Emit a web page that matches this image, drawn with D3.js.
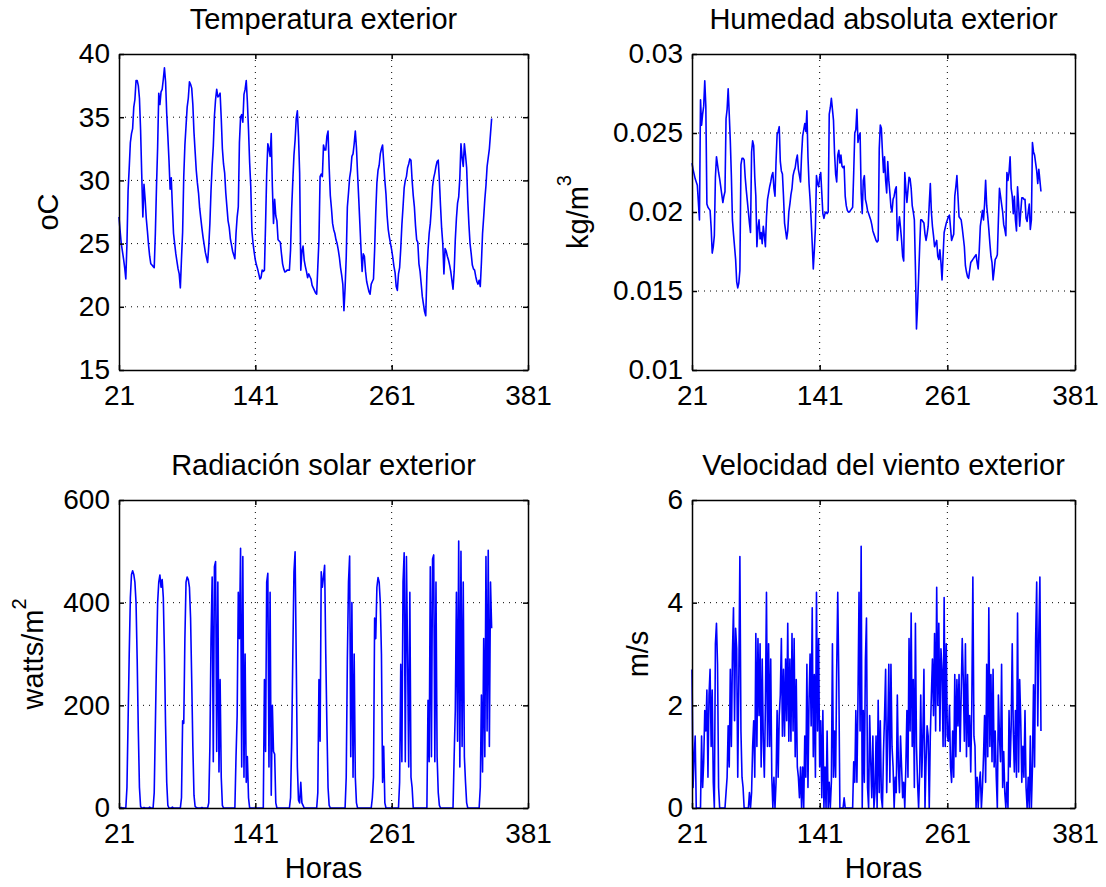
<!DOCTYPE html>
<meta charset="utf-8">
<style>
    body { margin: 0; background: #fff; }
    text {
        font-family: "Liberation Sans", Arial, Helvetica, sans-serif;
        font-size: 28px;
        fill: #000;
    }
    .big { font-size: 29px; }
    .grid line {
        stroke: #000;
        stroke-width: 1;
        stroke-dasharray: 1, 5;
    }
    .series {
        fill: none;
        stroke: #0000ff;
        stroke-width: 1.6;
        stroke-linejoin: round;
    }
    .axis path, .axis line { stroke: #000; stroke-width: 1.5; }
</style>

<svg width="1106" height="887"></svg>

<script src="https://d3js.org/d3.v7.min.js"></script>

<script>

    // hourly series, first value at hour 21
    var startHour = 21;
    var xDomain = [21, 381];
    var xTicks = [21, 141, 261, 381];

    var temperatura = [
        27.1, 26, 25, 24.4, 23.8, 23.1, 22.2, 25, 29.2, 31, 33, 33.7, 34.1, 35.8, 36.4, 37.9, 37.9, 37.5, 36.5, 34, 30.5, 27.1, 29.7, 28.5,
        27, 26, 24.9, 24, 23.4, 23.3, 23.2, 23.1, 25.8, 29.5, 32.6, 36.9, 36, 37, 37.2, 38, 38.9, 37.8, 35.3, 33.5, 31.6, 29.3, 30.2, 27.9,
        25.8, 25, 24.2, 23.6, 23, 22.6, 21.5, 23.8, 25.9, 30.3, 32.8, 34.3, 35.8, 36.5, 37.8, 37.6, 37.3, 36, 33.8, 32.3, 30.8, 29.8, 29, 27.8,
        27, 26.2, 25.5, 24.9, 24.3, 23.9, 23.5, 24.8, 26.6, 29.2, 31.2, 32.7, 35.1, 36.4, 37.2, 36.6, 36.7, 36.9, 34.9, 32.5, 31.3, 30.6, 29, 27.9,
        26.8, 26.3, 25.4, 24.9, 24.4, 24.1, 23.8, 25.8, 27.1, 27.9, 33, 35, 35.2, 34.6, 36.8, 37.2, 37.9, 36.2, 34, 31.4, 29.5, 26, 25, 24.3,
        23.7, 23.3, 23, 22.6, 22.2, 22.3, 22.9, 22.8, 22.9, 26.5, 30.5, 32.9, 32.5, 31.9, 33.7, 29.5, 26.6, 28.5, 27.2, 26.8, 25.3, 25.2, 25.1, 24.2,
        23.4, 23, 22.75, 22.8, 22.9, 22.9, 22.9, 24.5, 27.8, 30, 32, 33.2, 34.9, 35.5, 33.5, 30.6, 22.9, 24.4, 24.8, 23.7, 23.2, 22.8, 22.3, 22.6,
        22.4, 22.2, 21.7, 21.5, 21.3, 21.1, 21, 23.2, 25.3, 30.3, 30.5, 30.3, 32.8, 32.4, 32.4, 33.5, 33.9, 31, 28.8, 27.8, 26.6, 26.1, 25.8, 25.3,
        25, 24.5, 23.9, 23.1, 22.5, 21.8, 19.7, 21.5, 23.9, 27.9, 29, 30.2, 30.8, 31.9, 32.1, 32.9, 33.9, 32.6, 30.5, 28.6, 26.6, 24.6, 22.8, 24.2,
        24, 22.8, 22, 21.6, 21.2, 21, 21.8, 22, 22.2, 24.5, 27.5, 29.8, 30.8, 31.2, 32.1, 32.5, 32.8, 31.4, 30, 28.9, 27.2, 26.1, 25.5, 25,
        24.5, 23.9, 23.2, 22.7, 21.6, 21.3, 22.6, 23.1, 24.6, 26.5, 27.9, 29.4, 30, 30.3, 31, 31.3, 31.7, 31.6, 30, 28.8, 27.9, 26.4, 25.3, 25.1,
        23.4, 22.8, 21.8, 20.8, 20.2, 19.6, 19.3, 22.6, 24.5, 25.8, 26.6, 27.9, 29.5, 30.2, 30.6, 31.1, 31.5, 31.6, 30, 28, 26.2, 25, 22.6, 24.6,
        24.4, 24, 23.7, 23.3, 22.8, 22.1, 21.4, 22.8, 25.3, 27, 28.2, 28.7, 30.2, 32.9, 31.8, 31.1, 32.9, 32, 31, 28.4, 26.5, 25, 24.2, 23.3,
        23, 22.9, 22.4, 22, 21.8, 22.1, 21.6, 23.5, 25.8, 27.1, 28.5, 29.6, 31.1, 31.8, 32.5, 33.7, 34.9
    ];

    var humedad = [
        0.0231, 0.0227, 0.0224, 0.0221, 0.0219, 0.0217, 0.0206, 0.0195, 0.0271, 0.0255, 0.0262, 0.0267, 0.0283, 0.0267, 0.0205, 0.0203, 0.0202, 0.0201, 0.0190, 0.0174, 0.0178, 0.0185, 0.0222, 0.0235,
        0.0230, 0.0225, 0.0221, 0.0216, 0.0211, 0.0206, 0.0210, 0.0213, 0.0259, 0.0265, 0.0278, 0.0262, 0.0245, 0.0223, 0.0195, 0.0186, 0.0178, 0.0170, 0.0156, 0.0152, 0.0155, 0.0163, 0.0230, 0.0234,
        0.0234, 0.0233, 0.0222, 0.0214, 0.0207, 0.0200, 0.0193, 0.0187, 0.0238, 0.0245, 0.0242, 0.0222, 0.0210, 0.0178, 0.0190, 0.0195, 0.0183, 0.0187, 0.0180, 0.0191, 0.0185, 0.0178, 0.0197, 0.0208,
        0.0212, 0.0216, 0.0219, 0.0223, 0.0225, 0.0215, 0.0210, 0.0232, 0.0249, 0.0251, 0.0254, 0.0232, 0.0226, 0.0224, 0.0210, 0.0193, 0.0188, 0.0183, 0.0188, 0.0200, 0.0205, 0.0211, 0.0215, 0.0223,
        0.0226, 0.0228, 0.0233, 0.0236, 0.0227, 0.0223, 0.0219, 0.0236, 0.0248, 0.0252, 0.0256, 0.0251, 0.0264, 0.0235, 0.0218, 0.0208, 0.0195, 0.0180, 0.0164, 0.0176, 0.0190, 0.0223, 0.0218, 0.0216,
        0.0222, 0.0225, 0.0212, 0.0199, 0.0196, 0.0199, 0.0200, 0.0199, 0.0200, 0.0262, 0.0266, 0.0272, 0.0265, 0.0258, 0.0237, 0.0224, 0.0219, 0.0236, 0.0239, 0.0231, 0.0236, 0.0229, 0.0228, 0.0229,
        0.0210, 0.0204, 0.0201, 0.0200, 0.0200, 0.0201, 0.0202, 0.0203, 0.0225, 0.0250, 0.0252, 0.0265, 0.0244, 0.0248, 0.0250, 0.0212, 0.0199, 0.0220, 0.0223, 0.0208, 0.0205, 0.0201, 0.0199, 0.0197,
        0.0195, 0.0192, 0.0188, 0.0186, 0.0184, 0.0182, 0.0181, 0.0182, 0.0240, 0.0255, 0.0253, 0.0238, 0.0225, 0.0235, 0.0220, 0.0212, 0.0232, 0.0220, 0.0212, 0.0203, 0.0200, 0.0208, 0.0210, 0.0214,
        0.0216, 0.0182, 0.0190, 0.0197, 0.0190, 0.0182, 0.0172, 0.0169, 0.0225, 0.0215, 0.0206, 0.0214, 0.0222, 0.0221, 0.0215, 0.0204, 0.0200, 0.0195, 0.0165, 0.0126, 0.0140, 0.0159, 0.0178, 0.0195,
        0.0195, 0.0194, 0.0193, 0.0186, 0.0182, 0.0186, 0.0191, 0.0205, 0.0218, 0.0200, 0.0191, 0.0185, 0.0178, 0.0180, 0.0182, 0.0172, 0.0170, 0.0176, 0.0168, 0.0157, 0.0172, 0.0187, 0.0190, 0.0193,
        0.0195, 0.0197, 0.0198, 0.0190, 0.0182, 0.0184, 0.0186, 0.0210, 0.0216, 0.0223, 0.0210, 0.0197, 0.0196, 0.0195, 0.0190, 0.0184, 0.0178, 0.0166, 0.0162, 0.0159, 0.0158, 0.0163, 0.0168, 0.0169,
        0.0170, 0.0171, 0.0172, 0.0173, 0.0168, 0.0164, 0.0176, 0.0191, 0.0196, 0.0201, 0.0195, 0.0205, 0.0220, 0.0204, 0.0197, 0.0189, 0.0180, 0.0172, 0.0168, 0.0157, 0.0163, 0.0170, 0.0171, 0.0173,
        0.0195, 0.0215, 0.0210, 0.0205, 0.0200, 0.0192, 0.0189, 0.0185, 0.0225, 0.0220, 0.0225, 0.0235, 0.0215, 0.0210, 0.0199, 0.0210, 0.0195, 0.0188, 0.0216, 0.0205, 0.0191, 0.0200, 0.0209, 0.0209,
        0.0208, 0.0208, 0.0196, 0.0194, 0.0200, 0.0205, 0.0189, 0.0195, 0.0244, 0.0238, 0.0236, 0.0231, 0.0226, 0.0218, 0.0227, 0.0220, 0.0213
    ];

    var radiacion = [
        0, 0, 1, 0, 0, 0, 0, 40, 170, 300, 410, 455, 462, 455, 440, 400, 290, 150, 40, 3, 0, 0, 1, 0,
        0, 0, 0, 2, 0, 0, 0, 30, 160, 290, 400, 440, 454, 430, 445, 410, 300, 160, 50, 5, 0, 0, 0, 2,
        0, 0, 0, 0, 0, 0, 0, 20, 170, 165, 330, 440, 450, 445, 430, 370, 250, 120, 25, 3, 1, 0, 0, 0,
        0, 1, 0, 0, 0, 0, 0, 10, 120, 330, 450, 90, 470, 480, 110, 440, 70, 250, 60, 5, 0, 0, 0, 0,
        0, 0, 0, 0, 0, 0, 0, 100, 180, 420, 330, 506, 80, 490, 60, 300, 50, 100, 20, 0, 0, 0, 0, 0,
        0, 0, 0, 0, 0, 0, 0, 0, 250, 110, 440, 457, 80, 420, 25, 200, 110, 105, 10, 0, 0, 0, 0, 0,
        0, 0, 0, 0, 0, 0, 0, 20, 130, 300, 460, 499, 290, 80, 15, 10, 50, 10, 5, 0, 0, 0, 0, 0,
        0, 0, 0, 0, 0, 0, 0, 30, 250, 130, 460, 430, 450, 473, 300, 160, 40, 5, 0, 0, 0, 0, 0, 0,
        0, 0, 0, 0, 0, 0, 0, 0, 60, 290, 440, 491, 100, 400, 60, 300, 60, 10, 0, 0, 0, 0, 0, 0,
        0, 0, 0, 0, 0, 0, 0, 20, 60, 370, 330, 430, 449, 440, 400, 300, 50, 120, 10, 0, 0, 0, 0, 0,
        0, 0, 0, 0, 0, 0, 0, 50, 280, 90, 440, 497, 90, 490, 300, 80, 420, 60, 40, 0, 0, 0, 0, 0,
        0, 0, 0, 0, 0, 0, 0, 0, 210, 90, 470, 100, 485, 493, 90, 440, 100, 30, 5, 0, 0, 0, 0, 0,
        0, 0, 0, 0, 0, 0, 0, 100, 190, 420, 130, 520, 80, 500, 120, 440, 100, 50, 10, 0, 0, 0, 0, 0,
        0, 0, 0, 0, 0, 0, 40, 220, 70, 330, 100, 490, 150, 502, 120, 440, 350
    ];

    var viento = [
        2.7, 0.4, 1.0, 1.4, 0, 0, 0, 0, 0, 1.4, 0.4, 0.9, 1.9, 1.5, 2.3, 0.6, 2.2, 2.7, 1.2, 2.3, 0.5, 0, 3.2, 3.6,
        2.8, 0.4, 0, 0, 0, 0, 0, 0, 0.3, 0.6, 1.6, 0.8, 2.7, 1.2, 3.0, 3.9, 1.7, 3.5, 3.1, 0.6, 2.5, 4.9, 1.5, 0.6,
        0.4, 0, 0, 0, 0, 0, 0.3, 0, 0.3, 1.2, 1.7, 0.6, 3.4, 1.2, 3.3, 1.8, 3.2, 0.8, 2.9, 1.3, 0.6, 2.0, 4.2, 1.2,
        3.2, 1.2, 2.9, 0.6, 0, 0.6, 0, 0.5, 1.9, 0.6, 1.8, 2.2, 3.3, 1.4, 2.7, 1.4, 2.9, 1.7, 3.6, 1.3, 2.9, 1.3, 3.4, 1.5,
        3.3, 1.0, 2.5, 0.8, 0.6, 0.2, 0.8, 0, 0.8, 0, 1.4, 0.6, 2.8, 0.4, 2.1, 3.0, 1.6, 3.9, 1.0, 2.6, 0.6, 4.2, 1.5, 3.3,
        0.8, 1.7, 0.2, 1.9, 0, 0.8, 0, 1.5, 0, 0.5, 0, 0.5, 3.2, 0.6, 1.5, 0.6, 2.7, 4.2, 2.5, 0, 0, 0, 0, 0.2,
        0, 0, 0, 0, 0, 0, 0, 0, 0.9, 0.5, 1.9, 0.5, 2.1, 4.2, 1.5, 5.1, 0, 1.9, 0.5, 2.9, 3.7, 0.4, 0, 1.8,
        0.9, 0.2, 1.4, 0, 0.3, 1.4, 0, 2.1, 0.3, 1.7, 0.2, 0, 1.1, 1.8, 2.7, 0.3, 1.5, 2.8, 0.5, 2.8, 1.2, 0.8, 0, 0.6,
        0.3, 2.2, 0.8, 0.3, 1.4, 0.8, 0.2, 0.5, 0, 0.8, 1.9, 0.6, 3.3, 1.5, 3.8, 1.2, 2.5, 0.4, 3.6, 1.2, 0.5, 0, 0.7, 2.2,
        0.6, 1.4, 2.7, 0, 0.9, 1.6, 1.4, 0, 1.4, 2.2, 2.9, 1.8, 3.4, 1.5, 4.3, 2.0, 3.6, 1.5, 3.1, 2.7, 1.2, 4.1, 1.2, 3.2,
        1.4, 1.3, 2.0, 0.8, 0.5, 1.5, 0.6, 2.6, 1.0, 2.5, 1.6, 2.6, 1.1, 2.2, 3.3, 2.5, 1.3, 3.2, 1.0, 2.6, 1.2, 1.8, 0.7, 2.0,
        4.5, 1.4, 1.2, 0, 0.6, 0, 0.5, 0.7, 0, 0.4, 1.0, 1.8, 0.5, 2.8, 1.0, 3.9, 1.2, 2.6, 0.9, 2.7, 0.8, 1.5, 0.6, 0,
        2.2, 1.4, 0.9, 2.8, 0.4, 1.1, 0.3, 0, 0.5, 0, 1.9, 0.8, 1.6, 3.2, 1.5, 0.7, 1.9, 0.6, 3.8, 0.7, 2.5, 1.7, 0.5, 1.2,
        0.6, 1.9, 0.4, 0, 0.6, 0, 1.4, 0, 0.8, 2.4, 0.8, 3.3, 4.4, 1.6, 3.4, 4.5, 1.5
    ];

    var tempTicks = [15, 20, 25, 30, 35, 40];
    var humTicks = [0.01, 0.015, 0.02, 0.025, 0.03];
    var radTicks = [0, 200, 400, 600];
    var vientoTicks = [0, 2, 4, 6];

    var svg = d3.select("svg");

    // subplot boxes (pixels)
    var cols = [[119, 528], [692, 1075]],
        rows = [[54, 370], [500, 808]];

    var panels = [
        {title: "Temperatura exterior", values: temperatura, ticks: tempTicks, label: "oC", sup: null, labelX: 58, col: 0, row: 0},
        {title: "Humedad absoluta exterior", values: humedad, ticks: humTicks, label: "kg/m", sup: "3", labelX: 588, col: 1, row: 0},
        {title: "Radiación solar exterior", values: radiacion, ticks: radTicks, label: "watts/m", sup: "2", labelX: 43, col: 0, row: 1, xlabel: "Horas"},
        {title: "Velocidad del viento exterior", values: viento, ticks: vientoTicks, label: "m/s", sup: null, labelX: 648, col: 1, row: 1, xlabel: "Horas"}
    ];

    panels.forEach(function (p) {
        var x0 = cols[p.col][0], x1 = cols[p.col][1],
            y0 = rows[p.row][0], y1 = rows[p.row][1];

        var x = d3.scaleLinear().domain(xDomain).range([x0, x1]);
        var y = d3.scaleLinear().domain([p.ticks[0], p.ticks[p.ticks.length - 1]]).range([y1, y0]);

        var g = svg.append("g");

        /* dotted grid */
        var grid = g.append("g").attr("class", "grid");
        grid.selectAll(".gx")
                .data(xTicks.slice(1, -1))
                .enter().append("line")
                .attr("x1", function (d) { return x(d); })
                .attr("x2", function (d) { return x(d); })
                .attr("y1", y0)
                .attr("y2", y1);
        grid.selectAll(".gy")
                .data(p.ticks.slice(1, -1))
                .enter().append("line")
                .attr("x1", x0)
                .attr("x2", x1)
                .attr("y1", function (d) { return y(d); })
                .attr("y2", function (d) { return y(d); });

        g.append("path")
                .datum(p.values)
                .attr("class", "series")
                .attr("d", d3.line()
                        .x(function (d, i) { return x(startHour + i); })
                        .y(function (d) { return y(d); }));

        /* box with inward ticks on all sides */
        g.append("g").attr("class", "axis")
                .attr("transform", "translate(0," + y1 + ")")
                .call(d3.axisBottom(x).tickValues(xTicks).tickSize(-5).tickSizeOuter(0).tickPadding(15));
        g.append("g").attr("class", "axis")
                .attr("transform", "translate(0," + y0 + ")")
                .call(d3.axisTop(x).tickValues(xTicks).tickSize(-5).tickSizeOuter(0).tickFormat(""));
        g.append("g").attr("class", "axis")
                .attr("transform", "translate(" + x0 + ",0)")
                .call(d3.axisLeft(y).tickValues(p.ticks).tickSize(-5).tickSizeOuter(0).tickPadding(9)
                        .tickFormat(function (d) { return String(d); }));
        g.append("g").attr("class", "axis")
                .attr("transform", "translate(" + x1 + ",0)")
                .call(d3.axisRight(y).tickValues(p.ticks).tickSize(-5).tickSizeOuter(0).tickFormat(""));

        svg.selectAll(".axis text").attr("font-size", null).attr("font-family", null);

        g.append("text")
                .attr("class", "big")
                .attr("x", (x0 + x1) / 2)
                .attr("y", y0 - 25)
                .attr("text-anchor", "middle")
                .text(p.title);

        if (p.xlabel) {
            g.append("text")
                    .attr("class", "big")
                    .attr("x", (x0 + x1) / 2)
                    .attr("y", y1 + 70)
                    .attr("text-anchor", "middle")
                    .text(p.xlabel);
        }

        var yl = g.append("text")
                .attr("class", "big")
                .attr("transform", "translate(" + p.labelX + "," + (y0 + y1) / 2 + ") rotate(-90)")
                .attr("text-anchor", "middle");
        yl.append("tspan").text(p.label);
        if (p.sup) {
            yl.append("tspan")
                    .attr("dy", -17)
                    .style("font-size", "20px")
                    .text(p.sup);
        }
    });

</script>
